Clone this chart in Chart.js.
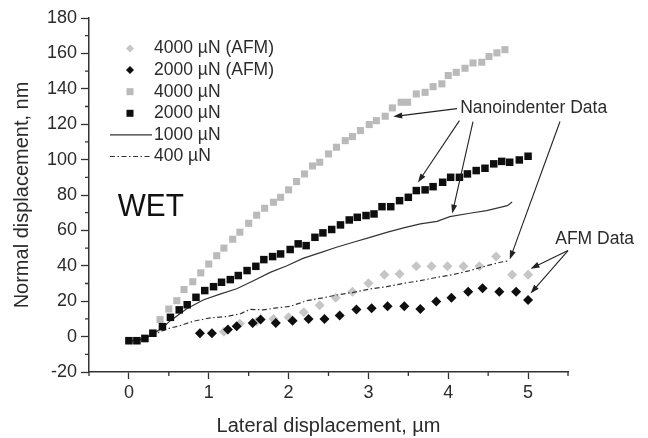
<!DOCTYPE html>
<html>
<head>
<meta charset="utf-8">
<script src="https://cdn.jsdelivr.net/npm/chart.js@4.4.0/dist/chart.umd.min.js"></script>
<style>
  body { margin: 0; background: #fff; }
  #wrap { width: 648px; height: 438px; }
</style>
</head>
<body>
<div id="wrap"><canvas id="chart" width="648" height="438"></canvas></div>
<script>
// 4000 uN (AFM) - grey diamonds
var afm4000X = [1.19, 1.39, 1.6, 1.81, 2.0, 2.19, 2.39, 2.59, 2.8, 3.0, 3.2, 3.39, 3.6, 3.79, 3.99, 4.19, 4.39, 4.6, 4.8, 5.0];
var afm4000Y = [2.8, 7.2, 8.5, 10, 10.9, 13.7, 17.7, 21.9, 25.4, 30.1, 35, 35.4, 39.7, 39.7, 39.7, 39.7, 39.7, 45.2, 35, 35];

// 2000 uN (AFM) - black diamonds
var afm2000X = [0.89, 1.04, 1.24, 1.35, 1.55, 1.65, 1.84, 2.05, 2.25, 2.45, 2.64, 2.85, 3.04, 3.24, 3.45, 3.65, 3.85, 4.04, 4.25, 4.43, 4.64, 4.85, 5.0];
var afm2000Y = [1.9, 1.9, 4, 5.8, 7.7, 9.6, 7.7, 9, 10, 10, 11.9, 15.3, 16, 17.1, 17.1, 15.6, 19.9, 21.9, 25.4, 27.3, 25.4, 25.4, 20.7];

// 4000 uN (nanoindenter) - grey squares
var ni4000X = [0, 0.1, 0.2, 0.3, 0.39, 0.5, 0.6, 0.69, 0.8, 0.9, 1.0, 1.1, 1.19, 1.3, 1.39, 1.5, 1.6, 1.7, 1.81, 1.9,
  2.0, 2.1, 2.2, 2.3, 2.39, 2.5, 2.6, 2.71, 2.8, 2.9, 3.01, 3.1, 3.21, 3.3, 3.41, 3.49, 3.6, 3.71, 3.81, 3.92,
  4.0, 4.1, 4.21, 4.31, 4.42, 4.51, 4.61, 4.71];
var ni4000Y = [-2.5, -2.5, -1.5, 2, 9.6, 15.6, 20.3, 26.6, 31, 36, 41, 45.7, 50, 55, 59, 64, 68.6, 72.5, 75.9, 78.7,
  82.9, 87.6, 91.9, 96.4, 98.5, 103.2, 107, 110.7, 113, 116.4, 119.8, 122, 124.5, 129.2, 132.4, 132.4, 137.1, 138, 141.2, 142.8,
  147.5, 149.3, 151.6, 154.6, 155, 158.2, 160.3, 162.1];

// 2000 uN (nanoindenter) - black squares
var ni2000X = [0, 0.1, 0.2, 0.3, 0.42, 0.52, 0.63, 0.73, 0.84, 0.95, 1.06, 1.16, 1.27, 1.37, 1.48, 1.59, 1.69, 1.8, 1.9,
  2.02, 2.12, 2.22, 2.33, 2.43, 2.54, 2.65, 2.76, 2.86, 2.97, 3.07, 3.17, 3.28, 3.39, 3.5, 3.6, 3.71, 3.81, 3.93,
  4.03, 4.14, 4.24, 4.35, 4.46, 4.57, 4.67, 4.77, 4.89, 5.0];
var ni2000Y = [-2.3, -2.3, -1, 1.9, 5.6, 10.9, 15.1, 18, 22.2, 26, 28.2, 30.7, 32.2, 34.5, 37.3, 39.7, 43.5, 45.2, 46.7,
  49.2, 52.4, 51.4, 56.1, 58.6, 60.5, 63.1, 65.9, 67.4, 68.4, 69.3, 73.4, 73.4, 76.8, 78.7, 82.5, 82.9, 84.7, 87.2,
  90, 90, 91.9, 93.8, 95.1, 97.6, 99, 98.5, 99.8, 101.9];

// 1000 uN - solid line
var ni1000X = [0, 0.1, 0.2, 0.3, 0.42, 0.52, 0.72, 0.93, 1.14, 1.35, 1.56, 1.77, 1.98, 2.18, 2.39, 2.6, 2.81, 3.02, 3.23,
  3.44, 3.65, 3.86, 4.02, 4.27, 4.48, 4.65, 4.74, 4.8];
var ni1000Y = [-2.3, -2.3, -1, 1.5, 5, 9, 15.6, 20.7, 24, 27, 31.6, 36.3, 40, 44.2, 47.3, 50.5, 53.3, 56.1, 58.9,
  61.4, 63.7, 65.1, 67.8, 69.7, 71.2, 73, 74, 76];

// 400 uN - dash-dot line
var ni400X = [0, 0.1, 0.2, 0.3, 0.47, 0.64, 0.81, 1.02, 1.22, 1.39, 1.52, 1.68, 1.85, 2.02, 2.23, 2.43, 2.6, 2.81, 3.02,
  3.23, 3.44, 3.65, 3.86, 4.06, 4.27, 4.48, 4.65, 4.77];
var ni400Y = [-2.3, -2.3, -1, 1, 4.3, 6.2, 8.7, 10.6, 11.3, 12.8, 15.4, 15.1, 16.2, 17.1, 20.3, 21.9, 23.5, 25, 26.9,
  28.2, 30.1, 31.6, 33.5, 35, 37.3, 40, 42, 42.9];

var xTicks = [0, 1, 2, 3, 4, 5];
var xMinor = [-0.5, 0.5, 1.5, 2.5, 3.5, 4.5, 5.5];
var yTicks = [-20, 0, 20, 40, 60, 80, 100, 120, 140, 160, 180];
var yMinor = [-10, 10, 30, 50, 70, 90, 110, 130, 150, 170];

var FONT = "'Liberation Sans', Arial, sans-serif";
var INK = '#2b2b2b';
var GREY_SQ = '#bababa';
var GREY_DI = '#c6c6c6';
var BLACK = '#0e0e0e';

function pts(xs, ys) {
  return xs.map(function (x, i) { return { x: x, y: ys[i] }; });
}

var legendItems = [
  { text: '4000 \u00b5N (AFM)', kind: 'diamond', color: GREY_DI },
  { text: '2000 \u00b5N (AFM)', kind: 'diamond', color: BLACK },
  { text: '4000 \u00b5N', kind: 'square', color: GREY_SQ },
  { text: '2000 \u00b5N', kind: 'square', color: BLACK },
  { text: '1000 \u00b5N', kind: 'line', color: '#333', dash: [] },
  { text: '400 \u00b5N', kind: 'line', color: '#333', dash: [5, 2.5, 1.5, 2.5] }
];

// annotation arrows, in data units: [fromX, fromY, toX, toY]
var nanoArrows = [[4.11, 128.8, 3.31, 124.3], [4.14, 122, 3.62, 87], [4.31, 121.5, 4.05, 69.5], [5.4, 121.5, 4.77, 43.5]];
var afmArrows = [[5.5, 48.6, 5.03, 38.4], [5.5, 48.6, 5.03, 24.3]];

function arrow(ctx, x0, y0, x1, y1) {
  var a = Math.atan2(y1 - y0, x1 - x0), L = 9, W = 3;
  ctx.beginPath();
  ctx.moveTo(x0, y0);
  ctx.lineTo(x1 - Math.cos(a) * 4, y1 - Math.sin(a) * 4);
  ctx.stroke();
  ctx.beginPath();
  ctx.moveTo(x1, y1);
  ctx.lineTo(x1 - L * Math.cos(a) + W * Math.sin(a), y1 - L * Math.sin(a) - W * Math.cos(a));
  ctx.lineTo(x1 - L * Math.cos(a) - W * Math.sin(a), y1 - L * Math.sin(a) + W * Math.cos(a));
  ctx.closePath();
  ctx.fill();
}

var decor = {
  id: 'decor',
  afterDraw: function (chart) {
    var ctx = chart.ctx, xs = chart.scales.x, ys = chart.scales.y, area = chart.chartArea;
    var X = function (v) { return xs.getPixelForValue(v); };
    var Y = function (v) { return ys.getPixelForValue(v); };
    ctx.save();

    // minor ticks
    ctx.strokeStyle = '#333';
    ctx.lineWidth = 1.3;
    ctx.beginPath();
    yMinor.forEach(function (v) { ctx.moveTo(area.left - 4, Y(v)); ctx.lineTo(area.left, Y(v)); });
    xMinor.forEach(function (v) { ctx.moveTo(X(v), area.bottom); ctx.lineTo(X(v), area.bottom + 4); });
    ctx.stroke();

    // legend
    ctx.font = '17.5px ' + FONT;
    ctx.textBaseline = 'middle';
    ctx.textAlign = 'left';
    legendItems.forEach(function (it, i) {
      var cy = 48.5 + i * 21.6, cx = 130;
      ctx.fillStyle = it.color;
      ctx.strokeStyle = it.color;
      if (it.kind === 'diamond') {
        ctx.beginPath();
        ctx.moveTo(cx, cy - 4); ctx.lineTo(cx + 4, cy); ctx.lineTo(cx, cy + 4); ctx.lineTo(cx - 4, cy);
        ctx.closePath(); ctx.fill();
      } else if (it.kind === 'square') {
        ctx.fillRect(cx - 3.5, cy - 3.5, 7, 7);
      } else {
        ctx.lineWidth = 1.2;
        ctx.setLineDash(it.dash);
        ctx.beginPath(); ctx.moveTo(110, cy); ctx.lineTo(152, cy); ctx.stroke();
        ctx.setLineDash([]);
      }
      ctx.fillStyle = INK;
      ctx.fillText(it.text, 154, cy);
    });

    // WET label
    ctx.save();
    ctx.translate(X(-0.14), Y(72.9));
    ctx.scale(0.93, 1);
    ctx.font = '32px ' + FONT;
    ctx.fillStyle = '#111';
    ctx.fillText('WET', 0, 0);
    ctx.restore();

    // data annotations
    ctx.font = '17.5px ' + FONT;
    ctx.fillStyle = INK;
    ctx.fillText('Nanoindenter Data', X(4.15), Y(128.8));
    ctx.fillText('AFM Data', X(5.34), Y(54.8));
    ctx.strokeStyle = '#222';
    ctx.fillStyle = '#222';
    ctx.lineWidth = 1.1;
    nanoArrows.concat(afmArrows).forEach(function (a) {
      arrow(ctx, X(a[0]), Y(a[1]), X(a[2]), Y(a[3]));
    });
    ctx.restore();
  }
};

new Chart(document.getElementById('chart'), {
  type: 'scatter',
  data: {
    datasets: [
      { label: '4000 \u00b5N (AFM)', data: pts(afm4000X, afm4000Y), pointStyle: 'rectRot', pointRadius: 5,
        backgroundColor: GREY_DI, borderWidth: 0, order: 6 },
      { label: '2000 \u00b5N (AFM)', data: pts(afm2000X, afm2000Y), pointStyle: 'rectRot', pointRadius: 5,
        backgroundColor: BLACK, borderWidth: 0, order: 3 },
      { label: '4000 \u00b5N', data: pts(ni4000X, ni4000Y), pointStyle: 'rect', pointRadius: 5,
        backgroundColor: GREY_SQ, borderWidth: 0, order: 5 },
      { label: '2000 \u00b5N', data: pts(ni2000X, ni2000Y), pointStyle: 'rect', pointRadius: 5.3,
        backgroundColor: BLACK, borderWidth: 0, order: 1 },
      { label: '1000 \u00b5N', data: pts(ni1000X, ni1000Y), showLine: true, pointRadius: 0,
        borderColor: '#333', borderWidth: 1.2, order: 2 },
      { label: '400 \u00b5N', data: pts(ni400X, ni400Y), showLine: true, pointRadius: 0,
        borderColor: '#333', borderWidth: 1.2, borderDash: [5, 2.5, 1.5, 2.5], order: 4 }
    ]
  },
  options: {
    responsive: false,
    animation: false,
    layout: { padding: { top: 18, right: 80, left: 0, bottom: 0 } },
    plugins: { legend: { display: false }, tooltip: { enabled: false } },
    scales: {
      x: {
        type: 'linear', min: -0.5, max: 5.5,
        afterBuildTicks: function (s) { s.ticks = xTicks.map(function (v) { return { value: v }; }); },
        afterFit: function (s) { s.height = 66; },
        grid: { drawOnChartArea: false, tickLength: 7, tickColor: '#333', tickWidth: 1.3 },
        border: { color: '#333', width: 1.5 },
        ticks: { color: INK, font: { family: FONT, size: 18 }, padding: 3, maxRotation: 0 },
        title: { display: true, text: 'Lateral displacement, \u00b5m', color: INK,
          font: { family: FONT, size: 20 }, padding: { top: 0, bottom: 0 } }
      },
      y: {
        type: 'linear', min: -20, max: 180,
        afterBuildTicks: function (s) { s.ticks = yTicks.map(function (v) { return { value: v }; }); },
        afterFit: function (s) { s.width = 89; },
        grid: { drawOnChartArea: false, tickLength: 8, tickColor: '#333', tickWidth: 1.3 },
        border: { color: '#333', width: 1.5 },
        ticks: { color: INK, font: { family: FONT, size: 18 }, padding: 4 },
        title: { display: true, text: 'Normal displacement, nm', color: INK,
          font: { family: FONT, size: 20 }, padding: { top: 10, bottom: 0 } }
      }
    }
  },
  plugins: [decor]
});
</script>
</body>
</html>
